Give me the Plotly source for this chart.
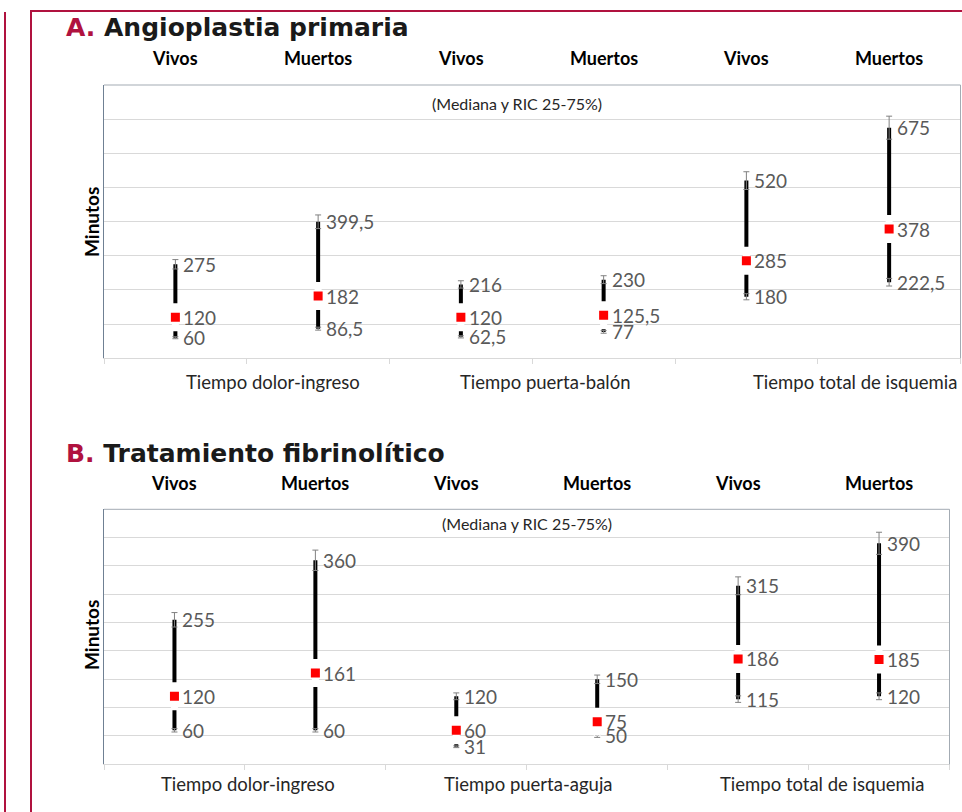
import plotly.graph_objects as go

W, H = 962, 812

# ---------------- data ----------------
groups = ["Vivos", "Muertos", "Vivos", "Muertos", "Vivos", "Muertos"]
cats_A = ["Tiempo dolor-ingreso", "Tiempo puerta-balón", "Tiempo total de isquemia"]
cats_B = ["Tiempo dolor-ingreso", "Tiempo puerta-aguja", "Tiempo total de isquemia"]

med_A = [120, 182, 120, 125.5, 285, 378]
q1_A = [60, 86.5, 62.5, 77, 180, 222.5]
q3_A = [275, 399.5, 216, 230, 520, 675]

med_B = [120, 161, 60, 75, 186, 185]
q1_B = [60, 60, 31, 50, 115, 120]
q3_B = [255, 360, 120, 150, 315, 390]

title_A = "Angioplastia primaria"
title_B = "Tratamiento fibrinolítico"
subtitle = "(Mediana y RIC 25-75%)"
ylabel = "Minutos"

# ---------------- helpers ----------------
def px(x):
    return x / W

def py(y):
    return 1 - y / H

def fmt(v):
    s = ("%g" % v)
    return s.replace(".", ",")

RED = "#B0123F"
LABEL_FONT = dict(family="Lato, Carlito, sans-serif", size=19, color="#595959")

fig = go.Figure()

def add_panel(xa, ya, med, q1, q3):
    xs = list(range(len(med)))
    lx, ly = [], []
    for i in xs:
        lx += [i, i, None]
        ly += [q1[i], q3[i], None]
    fig.add_trace(go.Scatter(x=lx, y=ly, mode="lines",
                             line=dict(color="black", width=4),
                             xaxis=xa, yaxis=ya, hoverinfo="skip", showlegend=False))
    fig.add_trace(go.Scatter(x=xs + xs, y=list(q1) + list(q3), mode="markers",
                             marker=dict(size=1, color="rgba(0,0,0,0)"),
                             error_y=dict(type="percent", value=5, color="#808080",
                                          thickness=1, width=3),
                             xaxis=xa, yaxis=ya, hoverinfo="skip", showlegend=False))
    fig.add_trace(go.Scatter(x=xs, y=med, mode="markers",
                             marker=dict(symbol="line-ns", size=20,
                                         line=dict(color="white", width=7)),
                             xaxis=xa, yaxis=ya, hoverinfo="skip", showlegend=False))
    fig.add_trace(go.Scatter(x=xs, y=med, mode="markers",
                             marker=dict(symbol="square", size=9, color="#FF0000"),
                             xaxis=xa, yaxis=ya, hoverinfo="skip", showlegend=False))
    anns = []
    xr = "x" if xa == "x" else "x2"
    yr = "y" if ya == "y" else "y2"
    for i in xs:
        for v in (q1[i], med[i], q3[i]):
            anns.append(dict(x=i, y=v, xref=xr, yref=yr, text=fmt(v),
                             showarrow=False, xanchor="left", yanchor="middle",
                             xshift=6, font=LABEL_FONT))
    return anns

ann = []
ann += add_panel("x", "y", med_A, q1_A, q3_A)
ann += add_panel("x2", "y2", med_B, q1_B, q3_B)

HFONT = dict(family="Lato, sans-serif", size=18, color="black")
for i, g in enumerate(groups):
    ann.append(dict(x=i, y=py(58), xref="x", yref="paper", text="<b>%s</b>" % g,
                    showarrow=False, xanchor="center", yanchor="middle", font=HFONT))
    ann.append(dict(x=i, y=py(483), xref="x2", yref="paper", text="<b>%s</b>" % g,
                    showarrow=False, xanchor="center", yanchor="middle", font=HFONT))

TFONT = dict(family="DejaVu Sans, sans-serif", size=25, color="#1a1a1a")
ann.append(dict(x=px(64), y=py(28), xref="paper", yref="paper", showarrow=False,
                xanchor="left", yanchor="middle", font=TFONT,
                text="<b><span style='color:%s'>A.</span> %s</b>" % (RED, title_A)))
ann.append(dict(x=px(64), y=py(453), xref="paper", yref="paper", showarrow=False,
                xanchor="left", yanchor="middle", font=TFONT,
                text="<b><span style='color:%s'>B.</span> %s</b>" % (RED, title_B)))

SFONT = dict(family="Lato, sans-serif", size=16, color="#262626")
ann.append(dict(x=px(517), y=py(103), xref="paper", yref="paper", showarrow=False,
                xanchor="center", yanchor="middle", text=subtitle, font=SFONT))
ann.append(dict(x=px(527), y=py(523), xref="paper", yref="paper", showarrow=False,
                xanchor="center", yanchor="middle", text=subtitle, font=SFONT))

for yc in (222, 635):
    ann.append(dict(x=px(91), y=py(yc), xref="paper", yref="paper", showarrow=False,
                    xanchor="center", yanchor="middle", textangle=-90,
                    text="<b>%s</b>" % ylabel,
                    font=dict(family="Lato, sans-serif", size=19, color="black")))

CFONT = dict(family="Lato, sans-serif", size=18.5, color="#262626")
for name, xc in zip(cats_A, (273, 545, 855)):
    ann.append(dict(x=px(xc), y=py(382), xref="paper", yref="paper", showarrow=False,
                    xanchor="center", yanchor="middle", text=name, font=CFONT))
for name, xc in zip(cats_B, (248, 528, 822)):
    ann.append(dict(x=px(xc), y=py(784), xref="paper", yref="paper", showarrow=False,
                    xanchor="center", yanchor="middle", text=name, font=CFONT))

GRID = "#D9D9D9"
LEFT = "#6F8093"
FRAME = "#A3ABB3"

def xaxis_cfg(x0, x1, anchor):
    return dict(domain=[px(x0), px(x1)], range=[-0.5, 5.5], anchor=anchor,
                tickvals=[-0.5, 0.5, 1.5, 2.5, 3.5, 4.5, 5.5], ticks="outside",
                ticklen=5, tickcolor=GRID, showticklabels=False, showgrid=False,
                zeroline=False, showline=True, linecolor=GRID, linewidth=1,
                fixedrange=True)

def yaxis_cfg(y0, y1, top, dt, anchor):
    return dict(domain=[py(y1), py(y0)], range=[0, top], dtick=dt, anchor=anchor,
                showticklabels=False, ticks="", showgrid=True, gridcolor=GRID,
                gridwidth=1, zeroline=False, showline=True, linecolor=LEFT,
                linewidth=1, fixedrange=True)

shapes = []
shapes.append(dict(type="line", xref="paper", yref="paper", x0=px(5), x1=px(5),
                   y0=py(12), y1=0, line=dict(color=RED, width=2)))
shapes.append(dict(type="line", xref="paper", yref="paper", x0=px(31), x1=px(31),
                   y0=py(10), y1=0, line=dict(color=RED, width=2)))
shapes.append(dict(type="line", xref="paper", yref="paper", x0=px(30), x1=1,
                   y0=py(11), y1=py(11), line=dict(color=RED, width=2)))
for xr, yr in (("x domain", "y domain"), ("x2 domain", "y2 domain")):
    shapes.append(dict(type="line", xref=xr, yref=yr, x0=0, x1=1, y0=1, y1=1,
                       line=dict(color=FRAME, width=1)))
    shapes.append(dict(type="line", xref=xr, yref=yr, x0=1, x1=1, y0=0, y1=1,
                       line=dict(color=FRAME, width=1)))

fig.update_layout(
    width=W, height=H, margin=dict(l=0, r=0, t=0, b=0),
    paper_bgcolor="white", plot_bgcolor="white",
    xaxis=xaxis_cfg(104, 960.5, "y"),
    yaxis=yaxis_cfg(85, 358.2, 800, 100, "x"),
    xaxis2=xaxis_cfg(104, 949.5, "y2"),
    yaxis2=yaxis_cfg(509.3, 764.3, 450, 50, "x2"),
    annotations=ann, shapes=shapes, showlegend=False,
)

fig.write_html("out.html", config={"displayModeBar": False},
               post_script="document.body.style.margin='0';document.body.style.overflow='hidden';")
